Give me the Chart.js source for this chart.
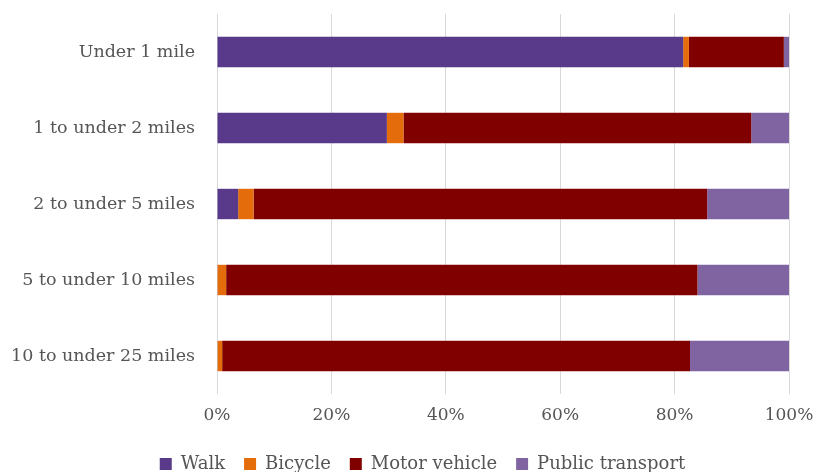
<!DOCTYPE html>
<html>
<head>
<meta charset="utf-8">
<script src="https://cdn.jsdelivr.net/npm/chart.js@4/dist/chart.umd.min.js"></script>
<style>
  html, body { margin: 0; padding: 0; background: #fff; overflow: hidden; }
  #wrap { position: relative; width: 817px; height: 483px; }
</style>
</head>
<body>
<div id="wrap"><canvas id="chart-modo"></canvas></div>
<script>
// Share of trips by mode, per trip distance band (percent)
const distancias = ['Under 1 mile', '1 to under 2 miles', '2 to under 5 miles', '5 to under 10 miles', '10 to under 25 miles'];
const walk = [81.5, 29.7, 3.7, 0.1, 0.1];
const bicycle = [1.0, 2.9, 2.7, 1.5, 0.8];
const motorVehicle = [16.6, 60.8, 79.3, 82.4, 81.8];
const publicTransport = [0.9, 6.6, 14.3, 16.0, 17.3];
const xTicks = ['0%', '20%', '40%', '60%', '80%', '100%'];

const FONTE = "'DejaVu Serif', serif";
const CINZA = '#555555';

function serie(label, data, cor) {
    return { label, data, backgroundColor: cor, borderWidth: 0, barPercentage: 0.4, categoryPercentage: 1 };
}

/* empurra a legenda para a direita (só uma vez por layout) */
const legendaOffset = {
    id: 'legendaOffset',
    beforeDraw(chart) {
        const lg = chart.legend;
        if (!lg || lg._desloc === lg.left) return;
        lg.left += 28;
        lg.right += 28;
        lg._desloc = lg.left;
    },
};

new Chart(document.getElementById('chart-modo'), {
    type: 'bar',
    data: {
        labels: distancias,
        datasets: [
            serie('Walk', walk, '#58398a'),
            serie('Bicycle', bicycle, '#e46c0a'),
            serie('Motor vehicle', motorVehicle, '#800000'),
            serie('Public transport', publicTransport, '#8064a2'),
        ],
    },
    options: {
        indexAxis: 'y',
        responsive: true,
        maintainAspectRatio: false,
        animation: false,
        layout: { padding: { top: 14, right: 28, left: 0, bottom: 0 } },
        scales: {
            x: {
                stacked: true,
                min: 0,
                max: 100,
                grid: { color: '#d9d9d9', drawTicks: false },
                border: { display: false },
                ticks: {
                    stepSize: 20,
                    padding: 11,
                    color: CINZA,
                    font: { family: FONTE, size: 17 },
                    callback: (v) => xTicks[v / 20],
                },
                afterFit: (s) => { s.height = 42; s.paddingLeft = 0; s.paddingRight = 0; },
            },
            y: {
                stacked: true,
                grid: { display: false },
                border: { display: false },
                ticks: { color: CINZA, padding: 14, font: { family: FONTE, size: 17.5 } },
                afterFit: (s) => { s.width = 217; s.paddingTop = 0; s.paddingBottom = 0; },
            },
        },
        plugins: {
            legend: {
                position: 'bottom',
                labels: {
                    color: CINZA,
                    font: { family: FONTE, size: 18 },
                    boxWidth: 12,
                    boxHeight: 12,
                    padding: 19,
                },
            },
            tooltip: { enabled: false },
        },
    },
    plugins: [legendaOffset],
});
</script>
</body>
</html>
